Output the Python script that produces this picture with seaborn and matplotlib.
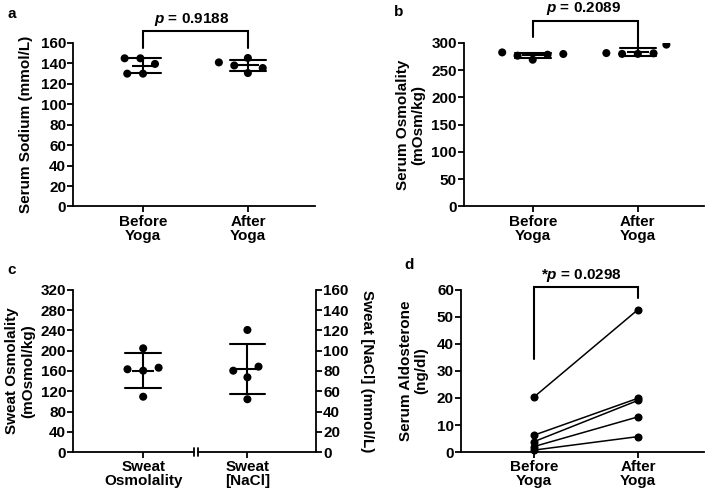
import numpy as np
import pandas as pd
import matplotlib
import matplotlib.pyplot as plt
import seaborn as sns

matplotlib.use("Agg")

# a: serum sodium (mmol/L)
sodium_before = [145, 145, 139.5, 130, 130]
sodium_after = [145.3, 141, 138, 135.5, 130.6]
# b: serum osmolality (mOsm/kg)
osm_before = [276.7, 282.7, 278.5, 279.8, 269.3]
osm_after = [280, 281.5, 297, 281, 280]
# c: sweat osmolality (mOsmol/kg) and sweat NaCl (mmol/L)
sweat_osm = [204.8, 166.5, 160.6, 163.4, 109.2]
sweat_nacl = [120.5, 80.3, 84.3, 73.8, 52.1]
# d: serum aldosterone (ng/dl), paired by subject
aldo_before = [20.3, 6.2, 3.8, 2.0, 0.7]
aldo_after = [52.7, 19.9, 19.1, 13.0, 5.7]

groups = ["Before\nYoga", "After\nYoga"]
sweat_groups = ["Sweat\nOsmolality", "Sweat\n[NaCl]"]
p_a, p_b, p_d = "0.9188", "0.2089", "0.0298"

sns.set_style("ticks")
plt.rcParams.update({
    "font.family": ["Liberation Sans", "DejaVu Sans"],
    "font.weight": "bold",
    "axes.labelweight": "bold",
    "font.size": 11,
    "text.color": "black",
    "axes.labelcolor": "black",
    "axes.linewidth": 1.3,
    "axes.edgecolor": "black",
    "xtick.color": "black", "ytick.color": "black",
    "xtick.labelcolor": "black", "ytick.labelcolor": "black",
    "mathtext.fontset": "custom",
    "mathtext.it": "Liberation Sans:italic:bold",
    "mathtext.rm": "Liberation Sans:bold",
})

LW = 1.5
DOT = 5.8      # marker diameter (pt)
SPREAD = 5.0   # extra swarm spacing (invisible edge)


def long_df(before, after, labels=groups):
    return pd.DataFrame({
        "group": [labels[0]] * len(before) + [labels[1]] * len(after),
        "value": list(before) + list(after),
    })


def dots(df, ax, order):
    sns.swarmplot(data=df, x="group", y="value", order=order, ax=ax,
                  color="black", size=DOT, linewidth=SPREAD, edgecolor="none", zorder=3)


def mean_sd(df, ax, order):
    sns.pointplot(data=df, x="group", y="value", order=order, ax=ax,
                  errorbar="sd", capsize=0.34, color="black", linestyle="none",
                  marker="_", markersize=16, markeredgewidth=LW,
                  err_kws={"linewidth": LW}, zorder=2)


def style(ax, ymax, step, xlim, labels):
    ax.set_ylim(0, ymax)
    ax.set_yticks(np.arange(0, ymax + 1, step))
    ax.set_xlim(*xlim)
    ax.set_xticks([0, 1])
    ax.set_xticklabels(labels, linespacing=1.0)
    ax.set_xlabel("")
    sns.despine(ax=ax)
    ax.tick_params(axis="y", width=1.3, length=4, pad=1, labelsize=11)
    ax.tick_params(axis="x", width=1.3, length=4, pad=2, labelsize=11)


def bracket(ax, top, left_end, right_end, text, xt):
    ax.plot([0, 0, 1, 1], [left_end, top, top, right_end], color="black",
            lw=LW, clip_on=False, solid_joinstyle="miter")
    ax.annotate(text, xy=(xt, top), xytext=(0, 6), textcoords="offset points",
                ha="center", va="baseline", fontsize=11, fontweight="bold",
                color="black", annotation_clip=False)


fig = plt.figure(figsize=(7.09, 4.94), dpi=100)

# a
ax = fig.add_axes([0.103, 0.582, 0.341, 0.331])
df = long_df(sodium_before, sodium_after)
dots(df, ax, groups)
mean_sd(df, ax, groups)
style(ax, 160, 20, (-0.667, 1.638), groups)
ax.set_ylabel("Serum Sodium (mmol/L)", fontsize=11)
ax.yaxis.set_label_coords(-0.165, 0.5)
bracket(ax, 171.4, 155, 155, r"$p$ = " + p_a, 0.46)

# b
ax = fig.add_axes([0.654, 0.582, 0.339, 0.331])
df = long_df(osm_before, osm_after)
dots(df, ax, groups)
mean_sd(df, ax, groups)
style(ax, 300, 50, (-0.657, 1.63), groups)
ax.set_ylabel("Serum Osmolality\n(mOsm/kg)", fontsize=11)
ax.yaxis.set_label_coords(-0.158, 0.5)
bracket(ax, 341, 311, 291, r"$p$ = " + p_b, 0.48)

# c
ax = fig.add_axes([0.103, 0.085, 0.343, 0.328])
ax2 = ax.twinx()
df_osm = pd.DataFrame({"group": sweat_groups[0], "value": sweat_osm})
df_nacl = pd.DataFrame({"group": sweat_groups[1], "value": sweat_nacl})
dots(df_osm, ax, sweat_groups)
mean_sd(df_osm, ax, sweat_groups)
dots(df_nacl, ax2, sweat_groups)
mean_sd(df_nacl, ax2, sweat_groups)
style(ax, 320, 40, (-0.673, 1.66), sweat_groups)
ax.set_ylabel("Sweat Osmolality\n(mOsmol/kg)", fontsize=11)
ax.yaxis.set_label_coords(-0.156, 0.5)
ax2.set_ylim(0, 160)
ax2.set_yticks(np.arange(0, 161, 20))
ax2.set_xlim(-0.673, 1.66)
ax2.set_xlabel("")
for side in ["top", "left", "bottom"]:
    ax2.spines[side].set_visible(False)
ax2.spines["right"].set_linewidth(1.3)
ax2.tick_params(axis="y", width=1.3, length=4, pad=1, labelsize=11)
ax2.set_ylabel("Sweat [NaCl] (mmol/L)", fontsize=11, rotation=270, va="bottom")
ax2.yaxis.set_label_coords(1.18, 0.5)
# broken x axis
ax.spines["bottom"].set_visible(False)
xt = ax.get_xaxis_transform()
ax.plot([-0.673, 0.49], [0, 0], color="black", lw=1.3, transform=xt, clip_on=False)
ax.plot([0.525, 1.66], [0, 0], color="black", lw=1.3, transform=xt, clip_on=False)
for xb in [0.49, 0.525]:
    ax.plot([xb, xb], [-0.025, 0.025], color="black", lw=1.3, transform=xt, clip_on=False)

# d
ax = fig.add_axes([0.650, 0.085, 0.343, 0.328])
n = len(aldo_before)
df_d = pd.DataFrame({
    "subject": list(range(n)) * 2,
    "time": [0] * n + [1] * n,
    "value": aldo_before + aldo_after,
})
sns.lineplot(data=df_d, x="time", y="value", units="subject", estimator=None,
             color="black", lw=1.1, marker="o", markersize=DOT,
             markeredgewidth=0, ax=ax, clip_on=False)
style(ax, 60, 10, (-0.70, 1.635), groups)
ax.set_ylabel("Serum Aldosterone\n(ng/dl)", fontsize=11)
ax.yaxis.set_label_coords(-0.132, 0.5)
bracket(ax, 61, 34.6, 56.9, r"*$p$ = " + p_d, 0.46)

# panel letters
for x, y, letter in [(0.011, 0.985, "a"), (0.556, 0.99, "b"),
                     (0.011, 0.468, "c"), (0.570, 0.478, "d")]:
    fig.text(x, y, letter, fontsize=11, fontweight="bold", va="top", color="black")

fig.savefig("out.png", dpi=100)
